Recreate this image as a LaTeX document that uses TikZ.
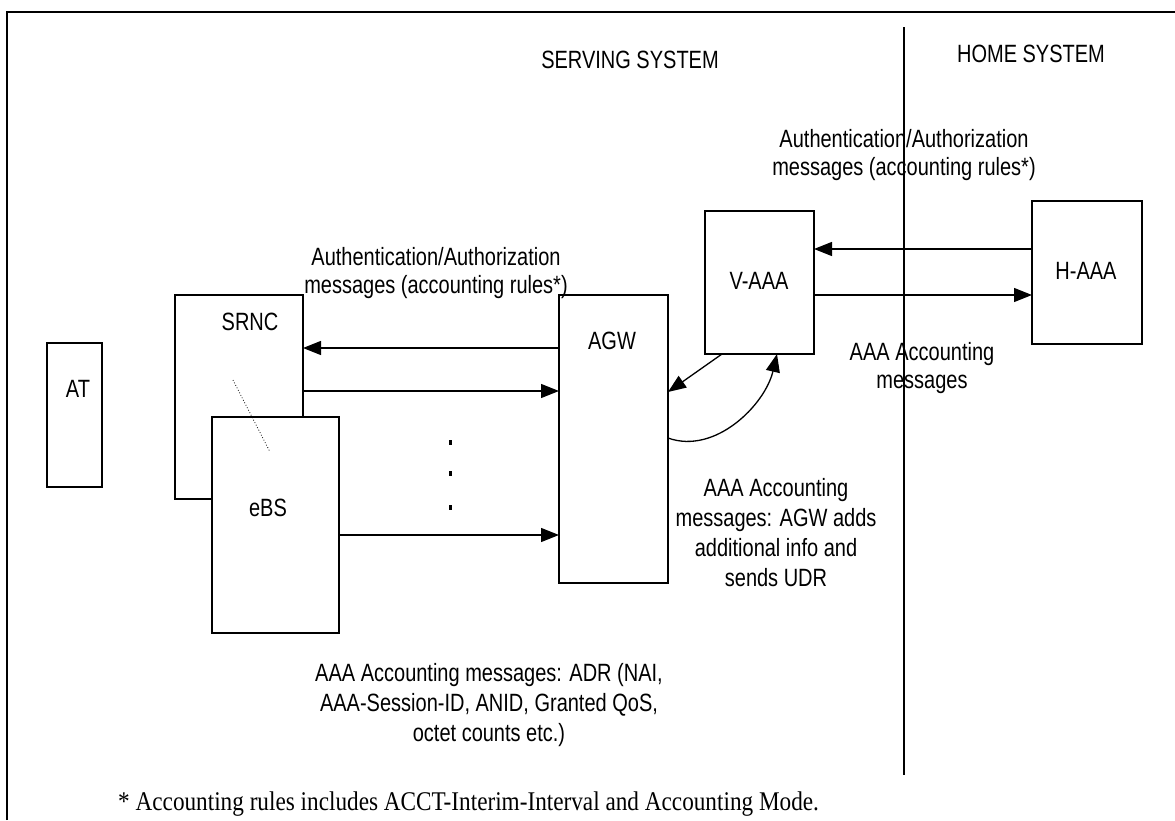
\documentclass[tikz,border=0pt]{standalone}
\usepackage{fontspec}
\setmainfont{Liberation Sans}
\newfontfamily\narsans[FakeStretch=0.8]{Liberation Sans}
\newfontfamily\narserif[FakeStretch=0.86]{Liberation Serif}
\usetikzlibrary{arrows.meta}
\begin{document}
\begin{tikzpicture}[x=1pt,y=-1pt,
  box/.style={draw,line width=1.3pt,inner sep=0pt,outer sep=0pt,anchor=north west},
  lbl/.style={font=\narsans\fontsize{25}{28}\selectfont,inner sep=0pt,align=center},
  arr/.style={line width=1.3pt,-{Triangle[length=18pt,width=14pt]}},
  plain/.style={line width=1.3pt}]
\useasboundingbox (0,0) rectangle (1175,820);
% frame and divider
\draw[plain] (7,820) -- (7,12) -- (1175,12);
\draw[plain] (904,27) -- (904,775);
% system titles
\node[lbl,anchor=base] (serving) at (630,68) {SERVING SYSTEM};
\node[lbl,anchor=base] (home) at (1031,62) {HOME SYSTEM};
% boxes
\node[box,minimum width=55pt,minimum height=144pt] (at) at (47,343) {};
\node[box,minimum width=128pt,minimum height=204pt] (srnc) at (175,295) {};
\node[box,fill=white,minimum width=127pt,minimum height=216pt] (ebs) at (212,417) {};
\node[box,minimum width=109pt,minimum height=288pt] (agw) at (559,295) {};
\node[box,minimum width=109pt,minimum height=143pt] (vaaa) at (705,211) {};
\node[box,minimum width=110pt,minimum height=143pt] (haaa) at (1032,201) {};
% box labels
\node[lbl] (atl) at (78,389) {AT};
\node[lbl] (srncl) at (250,322) {SRNC};
\node[lbl] (ebsl) at (268,508) {eBS};
\node[lbl] (agwl) at (612,341) {AGW};
\node[lbl] (vaaal) at (759,281) {V-AAA};
\node[lbl] (haaal) at (1086,271) {H-AAA};
% dotted link between SRNC and eBS
\draw[dotted,line width=0.8pt] (233,380) -- (270,452);
% connectors
\draw[arr] (agw.west |- 0,348) -- (srnc.east |- 0,348);
\draw[arr] (srnc.east |- 0,391) -- (agw.west |- 0,391);
\draw[arr] (ebs.east |- 0,535) -- (agw.west |- 0,535);
\draw[arr] (haaa.west |- 0,249) -- (vaaa.east |- 0,249);
\draw[arr] (vaaa.east |- 0,295) -- (haaa.west |- 0,295);
\draw[arr] (vaaa.south -| 722,0) -- (agw.east |- 0,392);
\draw[arr] (agw.east |- 0,438) .. controls (715,455) and (765,405) .. (vaaa.south -| 777,0);
% vertical dots
\fill (449,440) rectangle (452,445);
\fill (449,471) rectangle (452,476);
\fill (449,505) rectangle (452,510);
% message labels
\node[lbl,anchor=north] (authr) at (904,129) {Authentication/Authorization\\messages (accounting rules*)};
\node[lbl,anchor=north] (authl) at (436,247) {Authentication/Authorization\\messages (accounting rules*)};
\node[lbl,anchor=north] (acctr) at (922,342) {AAA Accounting\\messages};
\node[lbl,anchor=north,font=\narsans\fontsize{25}{30}\selectfont] (acctagw) at (776,478) {AAA Accounting\\messages: AGW adds\\additional info and\\sends UDR};
\node[lbl,anchor=north,font=\narsans\fontsize{25}{30}\selectfont] (acctb) at (489,663) {AAA Accounting messages: ADR (NAI,\\AAA-Session-ID, ANID, Granted QoS,\\octet counts etc.)};
% footnote
\node[inner sep=0pt,anchor=base west,font=\narserif\fontsize{27}{30}\selectfont] (foot) at (118,810) {* Accounting rules includes ACCT-Interim-Interval and Accounting Mode.};
\end{tikzpicture}
\end{document}
